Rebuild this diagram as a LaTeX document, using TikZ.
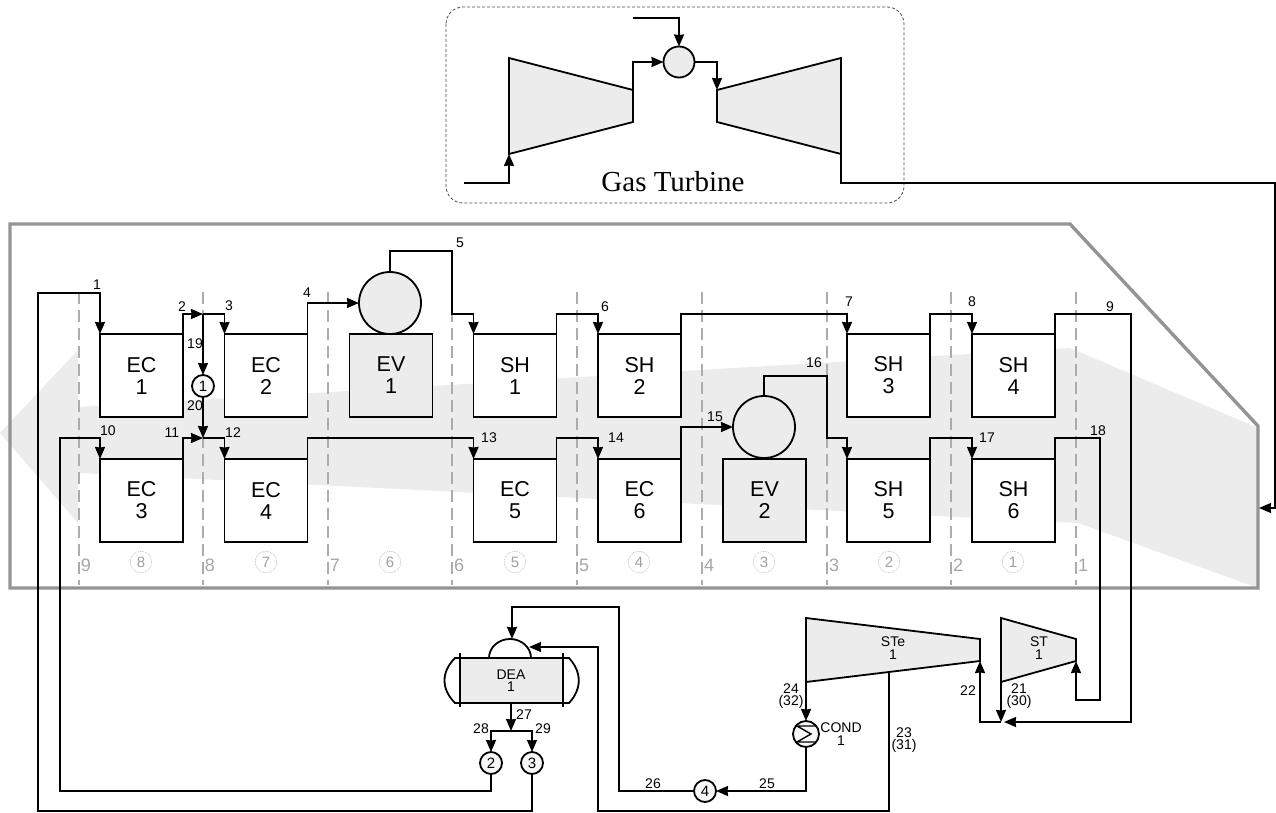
\documentclass[tikz,border=0pt]{standalone}
\usepackage{fontspec}
\setmainfont{Liberation Sans}
\newfontfamily\gtfont{Liberation Serif}
\usetikzlibrary{arrows.meta,positioning,calc}
\definecolor{gasgray}{gray}{0.925}
\definecolor{wallgray}{gray}{0.58}
\tikzset{
  unitbox/.style={draw=black, line width=1.8pt, fill=white, inner sep=0pt, outer sep=0pt,
                  minimum width=83, minimum height=83, align=center,
                  font=\fontsize{21.5}{22}\selectfont},
  evapbox/.style={unitbox, fill=gasgray},
  drum/.style={circle, draw=black, line width=1.8pt, fill=gasgray, inner sep=0pt, outer sep=0pt,
               minimum size=62},
  pumpc/.style={circle, draw=black, line width=1.8pt, fill=gray!6, inner sep=0pt, outer sep=0pt,
                minimum size=22, font=\fontsize{15}{15}\selectfont},
  pipe/.style={draw=black, line width=1.8pt},
  pipearr/.style={pipe, -{Stealth[length=12pt,width=10pt,inset=0.5pt]}},
  numlab/.style={inner sep=0pt, align=center, font=\fontsize{14}{12.3}\selectfont},
  unitlab/.style={inner sep=0pt, align=center, font=\fontsize{14}{12.5}\selectfont},
  pinch/.style={draw=gray!65, line width=1.1pt, dash pattern=on 12pt off 6pt},
  pinchlab/.style={inner sep=0pt, text=gray!70, font=\fontsize{18}{18}\selectfont},
  stagelab/.style={circle, draw=gray!60, densely dotted, line width=0.7pt, inner sep=0pt,
                   minimum size=21.5, text=gray!75, font=\fontsize{15}{15}\selectfont},
  machine/.style={draw=black, line width=1.8pt, fill=gasgray, line join=miter},
}
\begin{document}
\begin{tikzpicture}[x=1pt,y=-1pt]
\useasboundingbox (0,0) rectangle (1276,813);
\fill[gasgray] (0,433) -- (78,350) -- (78,407) -- (1070,348) -- (1258,428) -- (1258,588)
  -- (1078,523) -- (78,473) -- (78,523) -- cycle;
\draw[draw=wallgray, line width=3.4pt, line join=miter] (10,224) -- (1070,224) -- (1258,426) -- (1258,588) -- (10,588) -- cycle;

\draw[pinch] (79,292) -- (79,585);
\draw[pinch] (203,292) -- (203,585);
\draw[pinch] (328,292) -- (328,585);
\draw[pinch] (452,292) -- (452,585);
\draw[pinch] (577,292) -- (577,585);
\draw[pinch] (702,292) -- (702,585);
\draw[pinch] (827,292) -- (827,585);
\draw[pinch] (951,292) -- (951,585);
\draw[pinch] (1076,292) -- (1076,585);
\node[pinchlab] (p9) at (86,565) {9};
\node[pinchlab] (p8) at (210,565) {8};
\node[pinchlab] (p7) at (335,565) {7};
\node[pinchlab] (p6) at (459,565) {6};
\node[pinchlab] (p5) at (584,565) {5};
\node[pinchlab] (p4) at (709,565) {4};
\node[pinchlab] (p3) at (834,565) {3};
\node[pinchlab] (p2) at (958,565) {2};
\node[pinchlab] (p1) at (1083,565) {1};
\node[stagelab] (s8) at (141,562) {8};
\node[stagelab] (s7) at (266,562) {7};
\node[stagelab] (s6) at (390,562) {6};
\node[stagelab] (s5) at (515,562) {5};
\node[stagelab] (s4) at (639,562) {4};
\node[stagelab] (s3) at (764,562) {3};
\node[stagelab] (s2) at (889,562) {2};
\node[stagelab] (s1) at (1013,562) {1};

\node[unitbox] (ec1) at (141.5,375.5) {EC\\1};
\node[unitbox] (ec2) at (266,375.5) {EC\\2};
\node[evapbox] (ev1) at (391,375.5) {EV\\1};
\node[unitbox] (sh1) at (515,375.5) {SH\\1};
\node[unitbox] (sh2) at (639.5,375.5) {SH\\2};
\node[unitbox] (sh3) at (888.5,375.5) {SH\\3};
\node[unitbox] (sh4) at (1013.5,375.5) {SH\\4};
\node[unitbox] (ec3) at (141.5,500.5) {EC\\3};
\node[unitbox] (ec4) at (266,500.5) {EC\\4};
\node[unitbox] (ec5) at (515,500.5) {EC\\5};
\node[unitbox] (ec6) at (639.5,500.5) {EC\\6};
\node[evapbox] (ev2) at (764.5,500.5) {EV\\2};
\node[unitbox] (sh5) at (888.5,500.5) {SH\\5};
\node[unitbox] (sh6) at (1013.5,500.5) {SH\\6};
\node[drum] (dr1) at (390,303) {};
\node[drum] (dr2) at (764,427) {};

\node[pumpc] (pu1) at (203,386) {1};
\node[pumpc] (pu2) at (491,763) {2};
\node[pumpc] (pu3) at (532,763) {3};
\node[pumpc] (pu4) at (705,791) {4};

\coordinate (cp1) at (509,58);
\coordinate (cp2) at (633,90);
\coordinate (cp3) at (633,122);
\coordinate (cp4) at (509,154);
\coordinate (gt1) at (717,90);
\coordinate (gt2) at (841,58);
\coordinate (gt3) at (841,154);
\coordinate (gt4) at (717,122);
\coordinate (st1) at (806,618);
\coordinate (st2) at (980,639);
\coordinate (st3) at (980,661);
\coordinate (st4) at (806,682);
\coordinate (st5) at (1001,618);
\coordinate (st6) at (1076,639);
\coordinate (st7) at (1076,661);
\coordinate (st8) at (1001,682);
\draw[machine] (cp1) -- (cp2) -- (cp3) -- (cp4) -- cycle;
\draw[machine] (gt1) -- (gt2) -- (gt3) -- (gt4) -- cycle;
\draw[machine] (st1) -- (st2) -- (st3) -- (st4) -- cycle;
\draw[machine] (st5) -- (st6) -- (st7) -- (st8) -- cycle;
\node[circle, draw=black, line width=1.8pt, fill=gasgray, inner sep=0pt, outer sep=0pt, minimum size=31] (cc) at (679,62) {};
\draw[draw=black!70, line width=0.8pt, densely dashed, rounded corners=17pt] (446,7) rectangle (904,203);
\node[inner sep=0pt, font=\gtfont\fontsize{29}{29}\selectfont] (gtlab) at (673,182) {Gas Turbine};

\node[unitlab, fill=gasgray, draw=black, line width=1.8pt, minimum width=103, minimum height=45, outer sep=0pt] (dea) at (511,680.5) {DEA\\1};
\draw[pipe] (489,658) arc[start angle=180,end angle=0,x radius=21pt,y radius=19pt];
\coordinate (domet) at (510,639);
\coordinate (domer) at (529,647);
\draw[pipe] (460,653) -- (460,707);
\draw[pipe] (563,653) -- (563,707);
\draw[pipe] (460,658) -- (455,658) .. controls (441,672) and (441,689) .. (455,703) -- (460,703);
\draw[pipe] (563,658) -- (569,658) .. controls (582,672) and (582,689) .. (569,703) -- (563,703);

\node[circle, draw=black, line width=1.8pt, fill=gray!6, inner sep=0pt, outer sep=0pt, minimum size=26] (cond) at (806,734) {};
\draw[line width=1.4pt] (816,726) -- (797,726) -- (811,734) -- (797,742) -- (816,742);

\coordinate (in1) at (464,183);
\coordinate (in2) at (633,18);
\draw[pipearr] (in1) -| (cp4);
\draw[pipearr] (in2) -| (cc.north);
\draw[pipearr] (cp2) |- (cc.west);
\draw[pipearr] (cc.east) -| (gt1);
\coordinate (ex1) at (1275,183);
\coordinate (ex2) at (1259,508);
\draw[pipearr] (gt3) |- (ex1) -- (1275,508) -- (ex2);

\coordinate (j2) at (203,314);
\coordinate (j11) at (203,438);
\draw[pipearr] (pu3.south) -- (532,811) -- (38,811) |- (100,293) -- (ec1.north west);
\draw[pipearr] (pu2.south) |- (60,791) |- (100,438) -- (ec3.north west);
\draw[pipearr] (ec1.north east) |- (j2);
\draw[pipearr] (j2) -| (ec2.north west);
\draw[pipearr] (j2) -- (pu1.north);
\draw[pipearr] (pu1.south) -- (j11);
\draw[pipearr] (ec3.north east) |- (j11);
\draw[pipearr] (j11) -| (ec4.north west);
\draw[pipearr] (ec2.north east) |- (dr1.west);
\draw[pipearr] (dr1.north) |- (452,251) |- (473.5,314) -- (sh1.north west);
\draw[pipearr] (sh1.north east) |- (598,314) -- (sh2.north west);
\draw[pipearr] (sh2.north east) |- (847,314) -- (sh3.north west);
\draw[pipearr] (sh3.north east) |- (972,314) -- (sh4.north west);
\coordinate (j22) at (1001,722);
\coordinate (j21) at (1004,722);
\draw[pipearr] (sh4.north east) |- (1131,314) |- (j21);
\draw[pipearr] (ec4.north east) |- (473.5,438) -- (ec5.north west);
\draw[pipearr] (ec5.north east) |- (598,438) -- (ec6.north west);
\draw[pipearr] (ec6.north east) |- (dr2.west);
\draw[pipearr] (dr2.north) |- (827,376) |- (847,438) -- (sh5.north west);
\draw[pipearr] (sh5.north east) |- (972,438) -- (sh6.north west);
\draw[pipearr] (sh6.north east) |- (1100,438) |- (1076,700) -- (st7);
\draw[pipearr] (st8) -- (j22);
\draw[pipearr] (j22) -| (st3);
\draw[pipearr] (st4) -- (cond.north);
\draw[pipearr] (cond.south) |- (pu4.east);
\draw[pipearr] (pu4.west) -| (619,607) -| (512,639);
\coordinate (stb) at (889,672);
\draw[pipearr] (stb) |- (598,811) |- (domer);
\coordinate (dj) at (511,731);
\draw[pipearr] (dea.south) -- (dj);
\draw[pipearr] (dj) -| (pu2.north);
\draw[pipearr] (dj) -| (pu3.north);

\node[numlab] (n1) at (97,285) {1};
\node[numlab] (n2) at (182,307) {2};
\node[numlab] (n3) at (229,306) {3};
\node[numlab] (n4) at (307,293) {4};
\node[numlab] (n5) at (460,243) {5};
\node[numlab] (n6) at (605,307) {6};
\node[numlab] (n7) at (849,302) {7};
\node[numlab] (n8) at (972,302) {8};
\node[numlab] (n9) at (1110,307) {9};
\node[numlab] (n10) at (108,431) {10};
\node[numlab] (n11) at (172,433) {11};
\node[numlab] (n12) at (233,433) {12};
\node[numlab] (n13) at (489,438) {13};
\node[numlab] (n14) at (616,438) {14};
\node[numlab] (n15) at (715,417) {15};
\node[numlab] (n16) at (814,363) {16};
\node[numlab] (n17) at (987,438) {17};
\node[numlab] (n18) at (1098,431) {18};
\node[numlab] (n19) at (195,344) {19};
\node[numlab] (n20) at (195,406) {20};
\node[numlab] (n21) at (1019,696) {21\\(30)};
\node[numlab] (n22) at (968,691) {22};
\node[numlab] (n23) at (904,740) {23\\(31)};
\node[numlab] (n24) at (791,696) {24\\(32)};
\node[numlab] (n25) at (767,784) {25};
\node[numlab] (n26) at (653,784) {26};
\node[numlab] (n27) at (524,715) {27};
\node[numlab] (n28) at (481,729) {28};
\node[numlab] (n29) at (543,729) {29};
\node[unitlab] (stel) at (893,648) {STe\\1};
\node[unitlab] (stl) at (1039,648) {ST\\1};
\node[unitlab] (condl) at (841,734) {COND\\1};
\end{tikzpicture}
\end{document}
